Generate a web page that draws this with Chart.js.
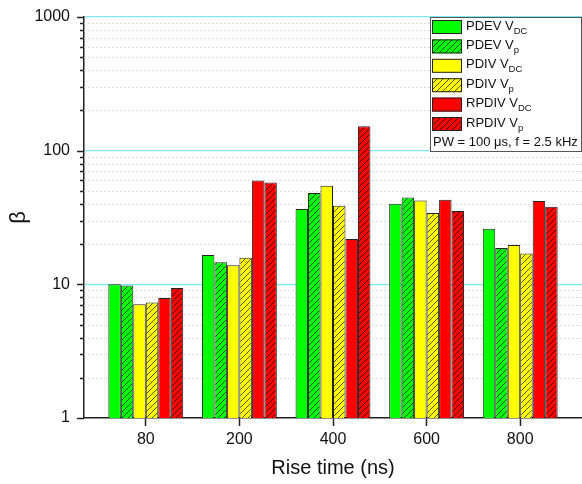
<!DOCTYPE html>
<html>
<head>
<meta charset="utf-8">
<script src="https://cdn.jsdelivr.net/npm/chart.js@4"></script>
<style>
  html, body { margin: 0; padding: 0; background: #fff; }
  #wrap { width: 582px; height: 484px; }
</style>
</head>
<body>
<div id="wrap"><canvas id="betaChart"></canvas></div>
<script>
var riseTimes = ['80', '200', '400', '600', '800'];
var pdevVdc  = [10.0, 16.6, 36.6, 40.1, 26.0];
var pdevVp   = [9.8, 14.6, 48.2, 44.7, 18.7];
var pdivVdc  = [7.1, 13.9, 54.7, 42.4, 19.7];
var pdivVp   = [7.3, 15.8, 38.7, 34.2, 17.0];
var rpdivVdc = [7.9, 59.9, 21.8, 43.0, 42.0];
var rpdivVp  = [9.4, 57.9, 152, 35.3, 38.0];
var yMajor = [1, 10, 100, 1000];
var noteText = 'PW = 100 \u03bcs, f = 2.5 kHz';

Chart.defaults.font.family = '"Liberation Sans", Arial, sans-serif';
Chart.defaults.color = '#111';

function hatch(color) {
  var c = document.createElement('canvas');
  c.width = 6; c.height = 6;
  var g = c.getContext('2d');
  g.fillStyle = color;
  g.fillRect(0, 0, 6, 6);
  g.strokeStyle = 'rgba(0,0,0,0.75)';
  g.lineWidth = 0.9;
  g.beginPath();
  g.moveTo(-1, 7); g.lineTo(7, -1);
  g.moveTo(-1, 1); g.lineTo(1, -1);
  g.moveTo(5, 7); g.lineTo(7, 5);
  g.stroke();
  return g.createPattern(c, 'repeat');
}

var series = [
  { name: 'PDEV V', sub: 'DC', data: pdevVdc, fill: '#00ff00' },
  { name: 'PDEV V', sub: 'p', data: pdevVp, fill: hatch('#00ff00') },
  { name: 'PDIV V', sub: 'DC', data: pdivVdc, fill: '#ffff00' },
  { name: 'PDIV V', sub: 'p', data: pdivVp, fill: hatch('#ffff00') },
  { name: 'RPDIV V', sub: 'DC', data: rpdivVdc, fill: '#ff0000' },
  { name: 'RPDIV V', sub: 'p', data: rpdivVp, fill: hatch('#ff0000') }
];

function points(vals) {
  return vals.map(function (v, i) { return { x: i, y: v }; });
}

function drawLegend(chart) {
  var c = chart.ctx, a = chart.chartArea;
  var bw = 151, bh = 134;
  var bx = a.right - bw - 1, by = a.top;
  c.save();
  c.fillStyle = '#fff';
  c.fillRect(bx, by, bw, bh);
  c.strokeStyle = '#555';
  c.lineWidth = 1;
  c.strokeRect(bx + 0.5, by + 0.5, bw, bh);
  c.textBaseline = 'middle';
  series.forEach(function (s, i) {
    var sy = by + 3 + i * 19.4;
    c.fillStyle = s.fill;
    c.fillRect(bx + 2, sy, 30, 14);
    c.strokeStyle = '#222';
    c.strokeRect(bx + 2.5, sy + 0.5, 29, 13);
    c.fillStyle = '#111';
    c.font = '13px "Liberation Sans", Arial, sans-serif';
    var tx = bx + 36, ty = sy + 6;
    c.fillText(s.name, tx, ty);
    var w = c.measureText(s.name).width;
    c.font = '9.5px "Liberation Sans", Arial, sans-serif';
    c.fillText(s.sub, tx + w, ty + 5);
  });
  c.font = '13px "Liberation Sans", Arial, sans-serif';
  c.fillStyle = '#111';
  c.fillText(noteText, bx + 3, by + 125);
  c.restore();
}

var axisDecor = {
  id: 'axisDecor',
  beforeDatasetsDraw: function (chart) {
    var y = chart.scales.y, a = chart.chartArea, c = chart.ctx;
    c.save();
    c.strokeStyle = '#d4d4d4';
    c.lineWidth = 1;
    c.setLineDash([1.5, 2.5]);
    y.ticks.forEach(function (t) {
      if (yMajor.indexOf(t.value) >= 0) return;
      var p = Math.round(y.getPixelForValue(t.value)) + 0.5;
      c.beginPath();
      c.moveTo(a.left, p);
      c.lineTo(a.right, p);
      c.stroke();
    });
    c.restore();
  },
  afterDraw: function (chart) {
    var y = chart.scales.y, a = chart.chartArea, c = chart.ctx;
    c.save();
    c.strokeStyle = '#222';
    c.lineWidth = 1.5;
    y.ticks.forEach(function (t) {
      var p = Math.round(y.getPixelForValue(t.value)) + 0.5;
      var len = yMajor.indexOf(t.value) >= 0 ? 7 : 4;
      c.beginPath();
      c.moveTo(a.left - len, p);
      c.lineTo(a.left, p);
      c.stroke();
    });
    c.restore();
    drawLegend(chart);
  }
};

var ctx = document.getElementById('betaChart').getContext('2d');
var betaChart = new Chart(ctx, {
  type: 'bar',
  data: {
    datasets: series.map(function (s) {
      return {
        label: s.name + s.sub,
        data: points(s.data),
        backgroundColor: s.fill,
        borderColor: '#222',
        borderWidth: 1,
        categoryPercentage: 0.8,
        barPercentage: 1.0
      };
    })
  },
  options: {
    responsive: true,
    maintainAspectRatio: false,
    animation: false,
    layout: { padding: { top: 17, right: 0, left: 0, bottom: 0 } },
    plugins: {
      legend: { display: false },
      tooltip: { enabled: false }
    },
    scales: {
      x: {
        type: 'linear',
        min: -0.66,
        max: 4.66,
        offset: false,
        afterBuildTicks: function (scale) {
          scale.ticks = riseTimes.map(function (_, i) { return { value: i }; });
        },
        afterFit: function (scale) {
          scale.height = 66;
          scale.paddingLeft = 0;
          scale.paddingRight = 0;
        },
        ticks: {
          autoSkip: false,
          maxRotation: 0,
          padding: 4,
          font: { size: 16 },
          callback: function (v) { return riseTimes[v]; }
        },
        grid: {
          offset: false,
          drawOnChartArea: false,
          drawTicks: true,
          tickLength: 8,
          tickColor: '#222',
          tickWidth: 1.5
        },
        border: { color: '#222', width: 1.5 },
        title: {
          display: true,
          text: 'Rise time (ns)',
          font: { size: 20 },
          padding: { top: 4, bottom: 4 }
        }
      },
      y: {
        type: 'logarithmic',
        min: 1,
        max: 1000,
        afterBuildTicks: function (scale) {
          var t = [];
          [1, 10, 100].forEach(function (d) {
            for (var k = 1; k < 10; k++) t.push({ value: d * k });
          });
          t.push({ value: 1000 });
          scale.ticks = t;
        },
        afterFit: function (scale) {
          scale.width = 84;
          scale.paddingTop = 0;
          scale.paddingBottom = 0;
        },
        ticks: {
          autoSkip: false,
          padding: 14,
          font: { size: 16 },
          callback: function (v) { return yMajor.indexOf(v) >= 0 ? String(v) : ''; }
        },
        grid: {
          drawTicks: false,
          color: function (c) {
            return c.tick && yMajor.indexOf(c.tick.value) >= 0 && c.tick.value !== 1 ? '#7fe9ef' : 'rgba(0,0,0,0)';
          },
          lineWidth: 1.2
        },
        border: { color: '#222', width: 1.5 },
        title: {
          display: true,
          text: '\u03b2',
          font: { size: 22 },
          padding: { top: 6, bottom: 4 }
        }
      }
    }
  },
  plugins: [axisDecor]
});
</script>
</body>
</html>
